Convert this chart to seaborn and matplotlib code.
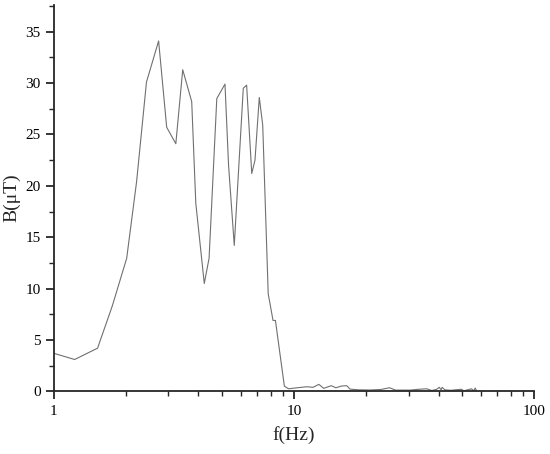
import numpy as np
import pandas as pd
import matplotlib
matplotlib.use("Agg")
import matplotlib.pyplot as plt
import matplotlib.ticker as mticker
import seaborn as sns

# -----------------------------------
# DATA
# -----------------------------------

freq_hz = [1.0, 1.22, 1.52, 1.75, 2.01, 2.21, 2.43, 2.73, 2.95, 3.22,
           3.44, 3.75, 3.9, 4.23, 4.43, 4.77, 5.16, 5.34, 5.64, 6.15,
           6.35, 6.67, 6.88, 7.17, 7.41, 7.81, 8.18, 8.37, 9.12, 9.5,
           9.9, 10.7, 11.3, 12.0, 12.7, 13.3, 14.3, 14.95, 15.8, 16.6,
           17.1, 18.5, 20.7, 23.0, 25.0, 26.5, 30.5, 33.0, 35.7, 37.5,
           39.3, 40.3, 41.0, 41.4, 42.5, 45.0, 47.0, 49.9, 50.9, 54.9,
           56.0, 56.9, 57.6]

b_ut = [3.7, 3.1, 4.2, 8.3, 12.95, 20.4, 30.1, 34.1, 25.7, 24.1,
        31.3, 28.2, 18.3, 10.5, 12.95, 28.5, 29.9, 22.0, 14.2, 29.5,
        29.8, 21.2, 22.5, 28.6, 25.9, 9.5, 6.9, 6.9, 0.5, 0.25,
        0.3, 0.39, 0.45, 0.39, 0.68, 0.29, 0.55, 0.35, 0.52, 0.55,
        0.22, 0.15, 0.13, 0.18, 0.35, 0.12, 0.12, 0.2, 0.25, 0.08,
        0.2, 0.39, 0.15, 0.39, 0.15, 0.1, 0.15, 0.2, 0.05, 0.25,
        0.05, 0.32, 0.06]

x_ticks = [1, 10, 100]
x_tick_labels = ["1", "10", "100"]
y_ticks = [0, 5, 10, 15, 20, 25, 30, 35]

df = pd.DataFrame({"f": freq_hz, "B": b_ut})

# SET STYLE
sns.set_style("ticks")
plt.rcParams["font.family"] = ["Liberation Serif", "DejaVu Serif"]

fig = plt.figure(figsize=(5.5, 4.54), dpi=100)
ax = fig.add_axes([0.098, 0.138, 0.873, 0.851])

sns.lineplot(
    x="f",
    y="B",
    data=df,
    sort=False,
    estimator=None,
    color="#707070",
    linewidth=0.8,
    ax=ax
)

ax.set_xscale("log")
ax.set_xlim(1, 100)
ax.set_ylim(0, 37.6)

ax.set_xticks(x_ticks)
ax.set_xticklabels(x_tick_labels)
ax.xaxis.set_minor_locator(mticker.LogLocator(base=10, subs=np.arange(2, 10)))
ax.xaxis.set_minor_formatter(mticker.NullFormatter())
ax.set_yticks(y_ticks)
ax.yaxis.set_minor_locator(mticker.MultipleLocator(2.5))

ax.tick_params(which="major", direction="out", length=6, width=1.1,
               labelsize=11, colors="black")
ax.tick_params(which="minor", direction="out", length=3.5, width=1.0)

for side in ["top", "right"]:
    ax.spines[side].set_visible(False)
for side in ["left", "bottom"]:
    ax.spines[side].set_linewidth(1.3)

ax.set_xlabel("f(Hz)", fontsize=14, labelpad=6)
ax.set_ylabel("B(μT)", fontsize=14, labelpad=4)

plt.savefig("out.png", dpi=100)
